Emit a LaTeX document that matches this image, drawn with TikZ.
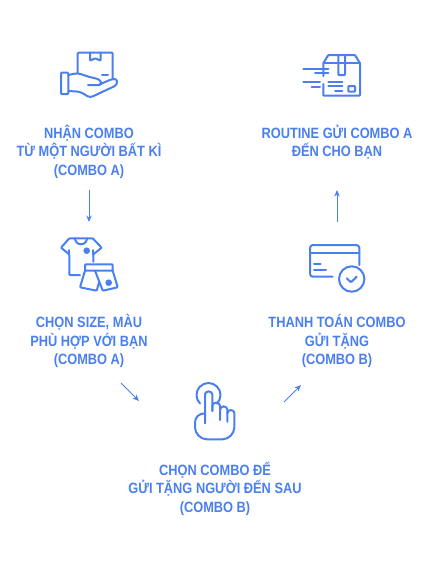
\documentclass[tikz,border=0pt]{standalone}
\usepackage{fontspec}
\setmainfont[FakeStretch=0.86]{Liberation Sans}
\usepackage{tikz}
\usetikzlibrary{arrows.meta, positioning}
\definecolor{comboblue}{HTML}{4A7FF0}
\tikzset{
    label/.style={text=comboblue, align=center, font=\fontsize{14.9}{18.6}\selectfont\bfseries, inner sep=0pt},
    icon/.style={draw=comboblue, line width=2pt, line join=round, line cap=round, rounded corners=0.8pt},
    dot/.style={circle, fill=comboblue, inner sep=0pt, minimum size=6.6pt},
    arrow/.style={-{Stealth[length=6.5pt, width=5.5pt]}, comboblue, line width=0.9pt}
}

\begin{document}
\begin{tikzpicture}[x=1pt, y=-1pt]
    \useasboundingbox (0,0) rectangle (430,571);

    % step labels
    \node[label] (receive) at (89,151.5) {NHẬN COMBO\\TỪ MỘT NGƯỜI BẤT KÌ\\(COMBO A)};
    \node[label] (routine) at (337,142) {ROUTINE GỬI COMBO A\\ĐẾN CHO BẠN};
    \node[label] (size) at (89,341) {CHỌN SIZE, MÀU\\PHÙ HỢP VỚI BẠN\\(COMBO A)};
    \node[label] (pay) at (337,341) {THANH TOÁN COMBO\\GỬI TẶNG\\(COMBO B)};
    \node[label] (choose) at (215,488.5) {CHỌN COMBO ĐỂ\\GỬI TẶNG NGƯỜI ĐẾN SAU\\(COMBO B)};

    % arrow ends
    \coordinate (a1) at (89,190);
    \coordinate (a2) at (89,222);
    \coordinate (b1) at (121,383);
    \coordinate (b2) at (139,401);
    \coordinate (c1) at (284,402);
    \coordinate (c2) at (301,385);
    \coordinate (d1) at (337,222);
    \coordinate (d2) at (337,190);

    % arrows
    \draw[arrow] (a1) -- (a2);
    \draw[arrow] (b1) -- (b2);
    \draw[arrow] (c1) -- (c2);
    \draw[arrow] (d1) -- (d2);

    % hand with box
    \draw[icon] (77.7,73) -- (77.7,52.7) -- (112.7,52.7) -- (112.7,79);
    \draw[icon] (90,52.7) -- (90,60.7) -- (95.3,58.3) -- (100.7,60.7) -- (100.7,52.7);
    \draw[icon] (102,75) -- (108,75);
    \draw[icon] (61,72.7) rectangle (68.3,94);
    \draw[icon, rounded corners=3pt] (68.3,75) -- (77.7,73) -- (88.3,76.7) -- (100,79.5) -- (102,85) -- (88,85);
    \draw[icon, rounded corners=3pt] (68.3,91) -- (80,91.7) -- (90,97.7) -- (117,85) -- (117.3,79) -- (112,79) -- (98.3,85);

    % parcel with speed lines
    \draw[icon] (323.3,76) -- (323.3,63.3) -- (328.3,55) -- (355,55) -- (360,63.3) -- (360,95.7) -- (323.3,95.7) -- (323.3,84);
    \draw[icon] (323.3,63.3) -- (360,63.3);
    \draw[icon] (338.3,55) -- (338.3,75) -- (345,75) -- (345,55);
    \draw[icon] (303.3,69) -- (328.3,69);
    \draw[icon] (315,73.3) -- (328.3,73.3);
    \draw[icon] (303.3,81.7) -- (320,81.7);
    \draw[icon] (311.7,86.7) -- (320,86.7);
    \draw[icon] (328.3,81.7) -- (342.3,81.7);
    \draw[icon] (328.3,86) -- (342.3,86);
    \draw[icon] (335,90.7) -- (342.3,90.7);
    \draw[icon] (348.3,86) rectangle (355,91.7);

    % shirt and shorts
    \draw[icon] (80,275) -- (69.3,275) -- (69.3,254.3) -- (61,247.7) -- (69.3,238.3) -- (92.7,238.3) -- (101.7,247.7) -- (93.3,254.3) -- (93.3,261.7);
    \draw[icon] (75,238.3) arc[start angle=180, end angle=0, radius=6];
    \draw[icon] (69.3,254.3) -- (69.3,250);
    \draw[icon] (93.3,254.3) -- (93.3,250);
    \node[dot] (shirtdot) at (86.7,250.7) {};
    \draw[icon] (85,264.3) rectangle (112.7,270.7);
    \draw[icon] (85,270.7) -- (80,287.3) -- (96.7,290.7) -- (99.3,281.7) -- (102.7,290.7) -- (117.7,287.3) -- (112.7,270.7);
    \draw[icon] (95,270.7) -- (99.3,281.7);
    \node[dot] (shortsdot) at (108.7,282.7) {};

    % card with check
    \draw[icon, rounded corners=3pt] (332.7,276.7) -- (310,276.7) -- (310,245) -- (359.3,245) -- (359.3,265);
    \draw[icon] (310,253.3) -- (359.3,253.3);
    \draw[icon] (314,264) -- (320.7,264);
    \draw[icon] (314,270) -- (326,270);
    \draw[icon] (351.7,279) circle[radius=12.7];
    \draw[icon] (346.7,278.3) -- (351,282.3) -- (356.7,276.7);

    % pointing hand
    \draw[icon] (200,403.5) arc[start angle=135, end angle=405, radius=12];
    \draw[icon] (205,423.3) -- (205,395) arc[start angle=180, end angle=360, radius=3.65] -- (212.3,411);
    \draw[icon] (212.3,411) -- (212.3,406.5) arc[start angle=180, end angle=360, radius=3.85] -- (220,420);
    \draw[icon] (220,410) arc[start angle=180, end angle=360, radius=3.65] -- (227.3,421.7);
    \draw[icon] (227.3,413.5) arc[start angle=180, end angle=360, radius=3.5] -- (234.3,426.7)
        arc[start angle=0, end angle=90, radius=12.6] -- (207.6,439.3)
        arc[start angle=90, end angle=180, radius=12.6] -- (195,423.5) .. controls (195,417) and (199,413.5) .. (205,413.3);
\end{tikzpicture}
\end{document}
